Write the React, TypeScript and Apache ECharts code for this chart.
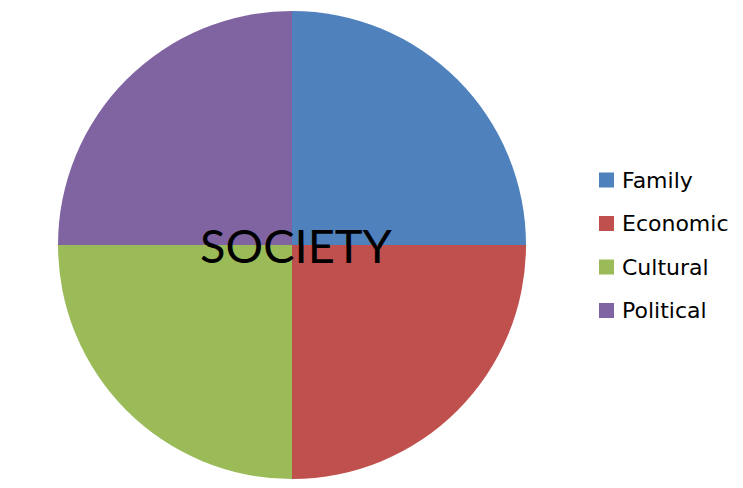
import React, { useEffect, useRef } from "react";
import * as echarts from "echarts";

const categories = ["Family", "Economic", "Cultural", "Political"];
const values = [25, 25, 25, 25];
const colors = ["#4F81BD", "#C0504D", "#9BBB59", "#8064A2"];
const centerLabel = "SOCIETY";

export default function App() {
  const ref = useRef<HTMLDivElement>(null);
  useEffect(() => {
    if (!ref.current) return;
    const chart = echarts.init(ref.current, null, { renderer: "svg" });
    chart.setOption({
      animation: false,
      backgroundColor: "#ffffff",
      color: colors,
      legend: {
        orient: "vertical",
        left: 599,
        top: 169,
        padding: 0,
        itemWidth: 15,
        itemHeight: 15,
        itemGap: 21.5,
        icon: "rect",
        selectedMode: false,
        textStyle: {
          fontFamily: "DejaVu Sans",
          fontSize: 22,
          lineHeight: 22,
          color: "#000000",
          padding: [0, 0, 0, 3],
        },
        data: categories,
      },
      series: [
        {
          type: "pie",
          center: [292, 245],
          radius: 234,
          startAngle: 90,
          clockwise: true,
          label: { show: false },
          labelLine: { show: false },
          emphasis: { disabled: true },
          itemStyle: { borderWidth: 0 },
          data: categories.map((c, i) => ({ name: c, value: values[i] })),
        },
      ],
      graphic: [
        {
          type: "text",
          x: 296,
          y: 245,
          z: 100,
          style: {
            text: centerLabel,
            fontFamily: "Lato",
            fontSize: 47,
            fill: "#000000",
            align: "center",
            verticalAlign: "middle",
          },
        },
      ],
    });
    return () => chart.dispose();
  }, []);
  return (
    <div
      ref={ref}
      style={{ position: "fixed", left: 0, top: 0, width: 743, height: 488 }}
    />
  );
}
